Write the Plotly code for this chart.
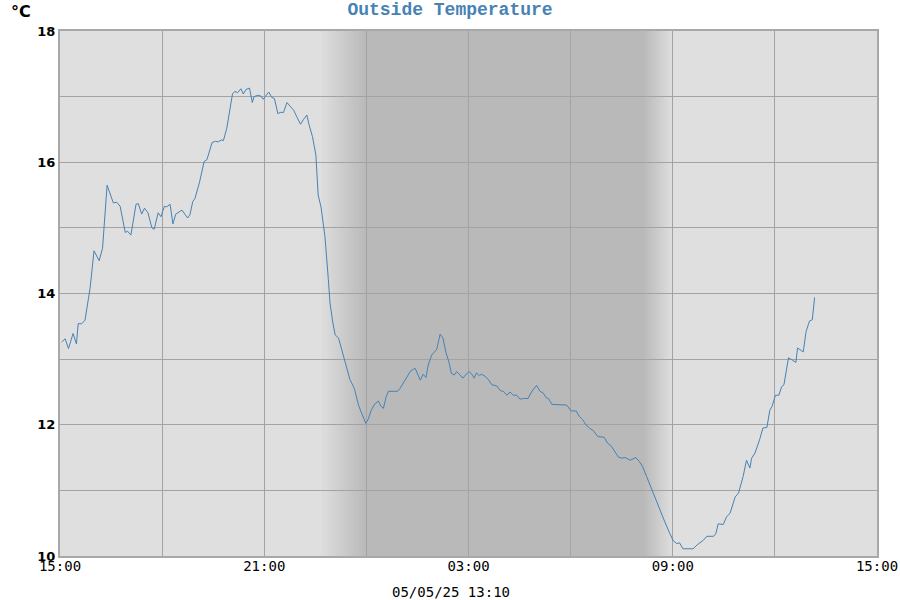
import pandas as pd
import plotly.graph_objects as go

# ---------------- data ----------------
start_time = "2025-05-04 15:00"
end_time = "2025-05-05 15:00"

minutes_since_start = [
    3, 9, 15, 23, 29, 32, 38, 44, 53, 60, 69, 75, 83, 94, 100, 106, 115, 119, 125, 134,
    138, 144, 149, 155, 162, 166, 173, 178, 184, 188, 194, 199, 204, 215, 225, 229, 234, 238, 246, 252,
    254, 259, 263, 268, 274, 279, 284, 288, 294, 300, 304, 308, 313, 319, 323, 328, 334, 339, 342, 348,
    354, 358, 363, 368, 373, 378, 384, 388, 394, 400, 405, 412, 418, 424, 429, 435, 439, 445, 451, 455,
    460, 467, 473, 476, 481, 485, 491, 497, 501, 505, 511, 519, 526, 532, 539, 543, 549, 555, 561, 566,
    570, 575, 579, 587, 595, 599, 605, 612, 618, 626, 635, 640, 645, 649, 655, 664, 670, 675, 680, 686,
    690, 695, 699, 705, 710, 716, 721, 726, 730, 734, 739, 743, 749, 755, 761, 770, 776, 781, 788, 793,
    799, 805, 811, 817, 825, 831, 840, 846, 852, 857, 861, 867, 876, 884, 893, 901, 910, 915, 921, 927,
    933, 940, 948, 959, 965, 972, 978, 984, 990, 996, 1005, 1011, 1015, 1021, 1027, 1034, 1043, 1051, 1059, 1066,
    1075, 1081, 1087, 1092, 1098, 1110, 1116, 1123, 1128, 1134, 1140, 1152, 1156, 1160, 1169, 1175, 1181, 1190, 1196, 1204,
    1210, 1216, 1219, 1225, 1233, 1239, 1246, 1251, 1255, 1261, 1267, 1272, 1276, 1284, 1290, 1297, 1300, 1310, 1315, 1321,
    1326, 1330,
]

temperature_c = [
    13.26, 13.31, 13.16, 13.39, 13.23, 13.54, 13.54, 13.59, 14.08, 14.65, 14.50, 14.69, 15.65, 15.38, 15.39, 15.33, 14.93, 14.95, 14.89, 15.36,
    15.37, 15.21, 15.30, 15.23, 15.00, 14.98, 15.23, 15.17, 15.33, 15.32, 15.36, 15.06, 15.21, 15.27, 15.15, 15.20, 15.40, 15.45, 15.70, 15.93,
    16.01, 16.04, 16.16, 16.30, 16.32, 16.31, 16.34, 16.33, 16.52, 16.85, 17.04, 17.08, 17.06, 17.12, 17.04, 17.11, 17.13, 16.91, 17.00, 17.02,
    17.01, 16.96, 17.01, 17.07, 16.99, 16.97, 16.74, 16.76, 16.76, 16.91, 16.86, 16.79, 16.68, 16.58, 16.65, 16.72, 16.57, 16.39, 16.11, 15.50,
    15.32, 14.87, 14.21, 13.85, 13.55, 13.37, 13.32, 13.14, 12.99, 12.88, 12.69, 12.55, 12.30, 12.17, 12.02, 12.08, 12.23, 12.32, 12.36, 12.28,
    12.25, 12.43, 12.51, 12.51, 12.51, 12.55, 12.64, 12.73, 12.82, 12.86, 12.68, 12.77, 12.72, 12.91, 13.06, 13.15, 13.38, 13.32, 13.11, 12.94,
    12.78, 12.76, 12.81, 12.76, 12.71, 12.77, 12.81, 12.77, 12.71, 12.79, 12.75, 12.77, 12.74, 12.69, 12.61, 12.59, 12.52, 12.51, 12.45, 12.50,
    12.45, 12.45, 12.39, 12.40, 12.40, 12.50, 12.60, 12.51, 12.48, 12.41, 12.40, 12.31, 12.31, 12.31, 12.30, 12.21, 12.21, 12.13, 12.08, 12.00,
    11.95, 11.91, 11.82, 11.81, 11.72, 11.67, 11.59, 11.51, 11.49, 11.50, 11.46, 11.49, 11.50, 11.44, 11.36, 11.21, 11.01, 10.83, 10.68, 10.52,
    10.34, 10.23, 10.19, 10.20, 10.11, 10.11, 10.11, 10.17, 10.20, 10.24, 10.30, 10.30, 10.34, 10.49, 10.48, 10.60, 10.65, 10.90, 10.96, 11.21,
    11.46, 11.34, 11.49, 11.57, 11.77, 11.95, 11.96, 12.22, 12.28, 12.45, 12.45, 12.58, 12.61, 13.02, 12.99, 12.95, 13.17, 13.11, 13.42, 13.58,
    13.60, 13.94,
]

x_tick_values = ["2025-05-04 15:00", "2025-05-04 18:00", "2025-05-04 21:00", "2025-05-05 00:00",
                 "2025-05-05 03:00", "2025-05-05 06:00", "2025-05-05 09:00", "2025-05-05 12:00",
                 "2025-05-05 15:00"]
x_tick_labels = ["15:00", "", "21:00", "", "03:00", "", "09:00", "", "15:00"]
y_tick_values = [10, 11, 12, 13, 14, 15, 16, 17, 18]
y_tick_labels = ["10", "", "12", "", "14", "", "16", "", "18"]

# night shading (dusk fade start, full night, dawn fade start, full day)
dusk_fade_start = "2025-05-04 22:38"
night_full = "2025-05-05 00:00"
dawn_fade_start = "2025-05-05 08:08"
day_full = "2025-05-05 09:00"

title_text = "Outside Temperature"
unit_text = "°C"
footer_text = "05/05/25 13:10"

# ---------------- figure ----------------
t0 = pd.Timestamp(start_time)
times = [t0 + pd.Timedelta(minutes=m) for m in minutes_since_start]

DAY = (223, 223, 223)
NIGHT = (185, 185, 185)


def mix(a, b, f):
    return "rgb(%d,%d,%d)" % tuple(round(a[i] + (b[i] - a[i]) * f) for i in range(3))


shapes = []
steps = 48
# dusk: overlapping rects, each running to full night (no seams)
ta, tb = pd.Timestamp(dusk_fade_start), pd.Timestamp(night_full)
for i in range(steps):
    s0 = ta + (tb - ta) * (i / steps)
    f = (i + 0.5) / steps
    shapes.append(dict(type="rect", xref="x", yref="paper", x0=s0, x1=dawn_fade_start,
                       y0=0, y1=1, fillcolor=mix(DAY, NIGHT, f), line=dict(width=0), layer="below"))
# full night block
shapes.append(dict(type="rect", xref="x", yref="paper", x0=night_full, x1=dawn_fade_start,
                   y0=0, y1=1, fillcolor=mix(DAY, NIGHT, 1), line=dict(width=0), layer="below"))
# dawn: overlapping rects from dawn start, lightest (widest) first
ta, tb = pd.Timestamp(dawn_fade_start), pd.Timestamp(day_full)
for i in reversed(range(steps)):
    s1 = ta + (tb - ta) * ((i + 1) / steps)
    f = 1 - (i + 0.5) / steps
    shapes.append(dict(type="rect", xref="x", yref="paper", x0=dawn_fade_start, x1=s1,
                       y0=0, y1=1, fillcolor=mix(DAY, NIGHT, f), line=dict(width=0), layer="below"))

fig = go.Figure()
fig.add_trace(go.Scatter(x=times, y=temperature_c, mode="lines",
                         line=dict(color="#4682b4", width=1), hoverinfo="skip"))

fig.update_layout(
    width=900, height=600,
    margin=dict(l=60, r=23, t=31, b=44, autoexpand=False),
    paper_bgcolor="white",
    plot_bgcolor="rgb(223,223,223)",
    showlegend=False,
    shapes=shapes,
    title=dict(text=title_text, x=0.5, xanchor="center", y=0.985, yanchor="middle",
               font=dict(family="Liberation Mono", size=18, color="#4682b4", weight="bold")),
)
fig.update_xaxes(
    range=[start_time, end_time], tickvals=x_tick_values, ticktext=x_tick_labels,
    showgrid=True, gridcolor="#a3a3a3", gridwidth=1,
    showline=True, linecolor="#a8a8a8", linewidth=2, mirror=True,
    ticks="", ticklabelstandoff=-4, automargin=False,
    tickfont=dict(family="DejaVu Sans Mono", size=14, color="black"),
)
fig.update_yaxes(
    range=[10, 18], tickvals=y_tick_values, ticktext=y_tick_labels,
    showgrid=True, gridcolor="#a3a3a3", gridwidth=1,
    showline=True, linecolor="#a8a8a8", linewidth=2, mirror=True,
    ticks="", zeroline=False, automargin=False,
    tickfont=dict(family="DejaVu Sans", size=13, color="black", weight="bold"),
)
fig.add_annotation(text=unit_text, xref="paper", yref="paper", x=-0.062, y=1.038,
                   xanchor="left", yanchor="middle", showarrow=False,
                   font=dict(family="DejaVu Sans", size=16, color="black", weight="bold"))
fig.add_annotation(text=footer_text, xref="paper", yref="paper", x=0.478, y=-0.068,
                   xanchor="center", yanchor="middle", showarrow=False,
                   font=dict(family="DejaVu Sans Mono", size=14, color="black"))

fig.write_html(
    "out.html",
    config={"displayModeBar": False, "staticPlot": True},
    post_script="document.body.style.margin='0';document.body.style.padding='0';",
)
